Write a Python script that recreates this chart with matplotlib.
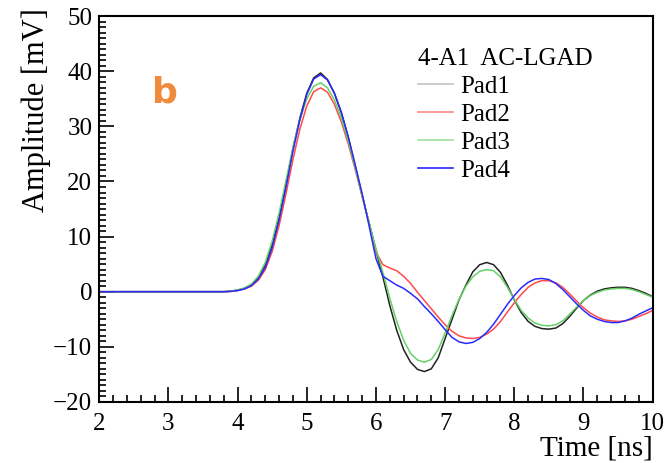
import matplotlib
matplotlib.use('Agg')
import matplotlib.pyplot as plt
from matplotlib.lines import Line2D
from matplotlib.ticker import MultipleLocator

# time grid [ns]
t = [2.0, 3.0, 3.8, 3.9, 4.0, 4.1, 4.2, 4.3, 4.4, 4.5, 4.6, 4.7, 4.8, 4.9,
     5.0, 5.1, 5.2, 5.3, 5.4, 5.5, 5.6, 5.7, 5.8, 5.9, 6.0, 6.1, 6.2, 6.3,
     6.4, 6.5, 6.6, 6.7, 6.8, 6.9, 7.0, 7.1, 7.2, 7.3, 7.4, 7.5, 7.6, 7.7,
     7.8, 7.9, 8.0, 8.1, 8.2, 8.3, 8.4, 8.5, 8.6, 8.7, 8.8, 8.9, 9.0, 9.1,
     9.2, 9.3, 9.4, 9.5, 9.6, 9.7, 9.8, 9.9, 10.0]

# amplitudes [mV]
pad1 = [0, 0, 0, 0.1, 0.3, 0.6, 1.2, 2.5, 4.8, 8.5, 13.5, 19.5, 26.0, 31.5,
        36.0, 38.8, 39.7, 38.5, 36.0, 32.5, 28.0, 22.8, 17.5, 12.5, 7.5, 2.7, -2.5, -7.0,
        -10.5, -12.8, -14.1, -14.5, -14.0, -12.0, -8.5, -5.0, -1.5, 1.2, 3.6, 4.9, 5.3, 4.9,
        3.5, 1.2, -1.5, -3.8, -5.4, -6.3, -6.7, -6.8, -6.6, -5.8, -4.5, -3.0, -1.6, -0.6,
        0.1, 0.5, 0.7, 0.8, 0.8, 0.6, 0.2, -0.3, -0.9]
pad2 = [0, 0, 0, 0.05, 0.2, 0.5, 1.0, 2.1, 4.0, 7.3, 12.0, 17.8, 24.0, 29.5,
        33.7, 36.3, 37.0, 36.2, 34.0, 30.8, 26.8, 22.2, 17.3, 12.5, 7.2, 4.9, 4.3, 3.8,
        2.8, 1.5, -0.1, -1.6, -3.1, -4.6, -6.0, -7.2, -8.0, -8.4, -8.5, -8.3, -7.7, -6.8,
        -5.4, -3.7, -2.0, -0.5, 0.8, 1.6, 2.0, 2.0, 1.6, 0.8, -0.4, -1.7, -2.9, -3.9,
        -4.6, -5.1, -5.3, -5.4, -5.3, -5.0, -4.5, -4.0, -3.4]
pad3 = [0, 0, 0, 0.1, 0.3, 0.7, 1.4, 2.8, 5.3, 9.2, 14.3, 20.2, 26.2, 31.2,
        35.0, 37.3, 37.9, 37.0, 34.8, 31.5, 27.3, 22.5, 17.5, 12.5, 7.8, 3.5, -1.2, -5.4,
        -8.8, -11.2, -12.4, -12.8, -12.3, -10.5, -7.5, -4.3, -1.4, 1.0, 2.7, 3.7, 4.0, 3.8,
        2.7, 0.8, -1.4, -3.4, -4.8, -5.7, -6.1, -6.2, -6.0, -5.3, -4.1, -2.8, -1.6, -0.7,
        -0.1, 0.3, 0.5, 0.6, 0.6, 0.4, 0.0, -0.5, -1.0]
pad4 = [0, 0, 0, 0.05, 0.2, 0.5, 1.1, 2.3, 4.4, 8.0, 13.0, 19.0, 25.5, 31.2,
        35.8, 38.6, 39.4, 38.4, 36.0, 32.5, 28.1, 23.0, 17.8, 12.0, 6.0, 2.8, 2.0, 1.2,
        0.6, -0.3, -1.3, -2.7, -4.0, -5.4, -6.9, -8.3, -9.1, -9.4, -9.2, -8.5, -7.4, -5.9,
        -4.1, -2.3, -0.7, 0.7, 1.7, 2.3, 2.4, 2.2, 1.5, 0.4, -0.9, -2.2, -3.4, -4.4,
        -5.0, -5.4, -5.6, -5.6, -5.3, -4.8, -4.1, -3.5, -2.9]

names = ["Pad1", "Pad2", "Pad3", "Pad4"]
line_colors = ["#222222", "#ff4a4a", "#66d066", "#2a2aff"]
legend_colors = ["#c4c4c4", "#ff8a8a", "#9ee09e", "#2a2aff"]

plt.rcParams['font.family'] = ['Liberation Serif', 'DejaVu Serif']

fig = plt.figure(figsize=(6.66, 4.63), dpi=100)
ax = fig.add_axes([0.149, 0.132, 0.831, 0.833])

for y, c in zip([pad1, pad2, pad3, pad4], line_colors):
    ax.plot(t, y, color=c, lw=1.1)

ax.set_xlim(2, 10)
ax.set_ylim(-20, 50)
ax.xaxis.set_major_locator(MultipleLocator(1))
ax.xaxis.set_minor_locator(MultipleLocator(0.2))
ax.yaxis.set_minor_locator(MultipleLocator(1))
ax.tick_params(which='both', direction='in', top=False, right=False,
               labelsize=18, color='black', width=1.2)
ax.tick_params(which='major', length=11, pad=5)
ax.tick_params(axis='x', which='major', pad=8)
ax.tick_params(which='minor', length=5)
for s in ax.spines.values():
    s.set_linewidth(1.5)
ax.set_yticks(range(-20, 51, 10))
ax.set_yticklabels(["\u221220", "\u221210", "0", "10", "20", "30", "40", "50"])

ax.set_xlabel("Time [ns]", fontsize=21, loc='right')
ax.xaxis.set_label_coords(1.0, -0.087)
ax.set_ylabel("Amplitude [mV]", fontsize=22, loc='top')
ax.yaxis.set_label_coords(-0.087, 1.02)

ax.text(0.095, 0.775, "b", transform=ax.transAxes, fontsize=26,
        fontweight='bold', color='#f08a3c', family='DejaVu Sans')

handles = [Line2D([], [], color=c, lw=1.2) for c in legend_colors]
leg = ax.legend(handles, names, title="4-A1  AC-LGAD", loc='upper left',
                bbox_to_anchor=(0.576, 0.917), frameon=False, fontsize=18,
                title_fontsize=18, handlelength=1.4, handletextpad=0.3,
                labelspacing=0.22, borderaxespad=0, borderpad=0)
leg._legend_box.align = "left"

fig.savefig("out.png", dpi=100)
